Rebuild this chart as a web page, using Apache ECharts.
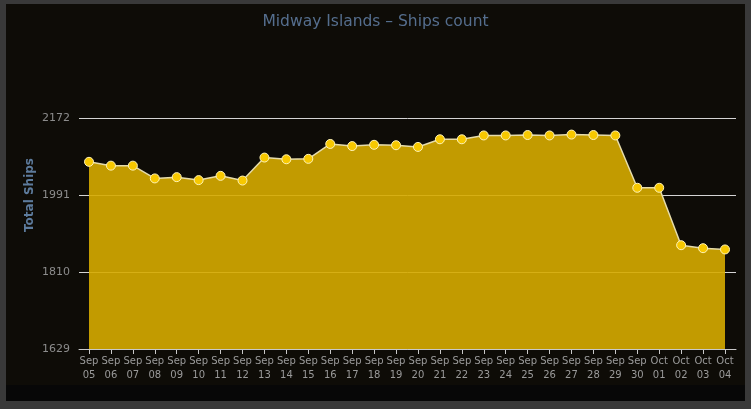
<!DOCTYPE html>
<html>
<head>
<meta charset="utf-8">
<script src="https://cdn.jsdelivr.net/npm/echarts@6/dist/echarts.min.js"></script>
<style>
html,body{margin:0;padding:0;background:#393939;width:751px;height:409px;overflow:hidden;}
#panel{position:absolute;left:6px;top:4px;width:739px;height:397px;background:#0e0c07;}
#strip{position:absolute;left:6px;top:385px;width:739px;height:16px;background:#070707;}
#chart{position:absolute;left:0;top:0;width:751px;height:409px;}
</style>
</head>
<body>
<div id="panel"></div>
<div id="strip"></div>
<div id="chart"></div>
<script>
const titleText = 'Midway Islands – Ships count';
const yAxisTitle = 'Total Ships';
const categories = ['Sep 05','Sep 06','Sep 07','Sep 08','Sep 09','Sep 10','Sep 11','Sep 12','Sep 13','Sep 14',
  'Sep 15','Sep 16','Sep 17','Sep 18','Sep 19','Sep 20','Sep 21','Sep 22','Sep 23','Sep 24',
  'Sep 25','Sep 26','Sep 27','Sep 28','Sep 29','Sep 30','Oct 01','Oct 02','Oct 03','Oct 04'];
const shipCounts = [2069,2060,2060,2030,2033,2026,2036,2025,2079,2075,
  2076,2111,2106,2109,2108,2104,2122,2122,2131,2131,
  2132,2131,2133,2132,2131,2008,2008,1873,1866,1863];
const yTicks = [1629,1810,1991,2172];

const chart = echarts.init(document.getElementById('chart'), null, {renderer:'canvas'});
const yMin = yTicks[0], yMax = yTicks[yTicks.length-1], yStep = yTicks[1]-yTicks[0];
chart.setOption({
  backgroundColor: 'transparent',
  animation: false,
  title: {
    text: titleText, left: 'center', top: 14, padding: 0,
    textStyle: {color:'#556e8e', fontSize:15.5, fontWeight:'normal', fontFamily:'DejaVu Sans'}
  },
  graphic: [{
    type:'text', x: 30, y: 195, rotation: Math.PI/2,
    style: {text: yAxisTitle, fill:'#5d7b9c', font:'bold 12px "DejaVu Sans"', align:'center', verticalAlign:'middle'}
  }],
  grid: [
    {left:79, right:15, top:118, bottom:60},
    {left:89, right:26, top:118, bottom:60}
  ],
  xAxis: [
    {type:'value', gridIndex:0, min:0, max:1, axisLine:{show:true, lineStyle:{color:'#c8c8c8', width:1}},
     axisTick:{show:false}, axisLabel:{show:false}, splitLine:{show:false}},
    {type:'category', gridIndex:1, data:categories, boundaryGap:false,
     axisLine:{show:false}, axisTick:{show:true, length:5, interval:0, lineStyle:{color:'#c8c8c8'}},
     axisLabel:{interval:0, margin:5, color:'#9a9a9a', fontSize:10, fontFamily:'DejaVu Sans', lineHeight:14,
       formatter: v => v.replace(' ', '\n')},
     splitLine:{show:false}}
  ],
  yAxis: [
    {type:'value', gridIndex:0, min:yMin, max:yMax, interval:yStep,
     axisLine:{show:false}, axisTick:{show:false},
     axisLabel:{color:'#8c8c8c', fontSize:11, fontFamily:'DejaVu Sans', margin:9, formatter: v => String(v)},
     splitLine:{show:true, lineStyle:{color:'#d4d4d4', width:1}}},
    {type:'value', gridIndex:1, min:yMin, max:yMax, interval:yStep, show:false, splitLine:{show:false}}
  ],
  series: [{
    type:'line', xAxisIndex:1, yAxisIndex:1, data:shipCounts,
    symbol:'circle', symbolSize:9,
    lineStyle:{color:'#e6dcaa', width:1.5},
    itemStyle:{color:'#f7c800', borderColor:'#fff4b8', borderWidth:1},
    areaStyle:{color:'#d6ab00', opacity:0.9}
  }]
});
</script>
</body>
</html>
